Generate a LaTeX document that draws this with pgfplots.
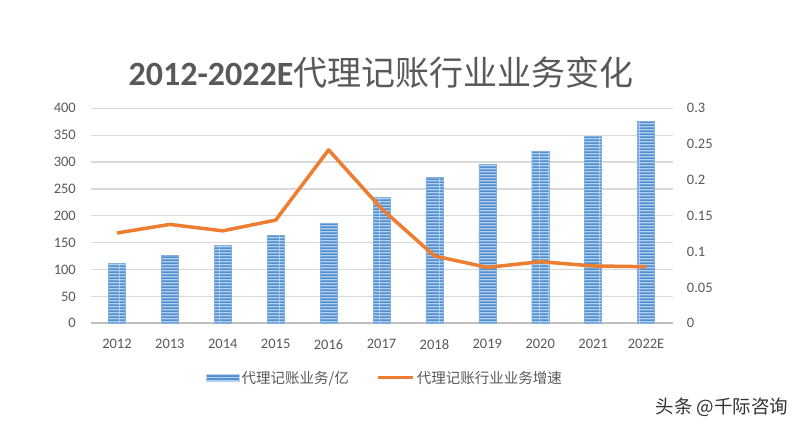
\documentclass[border=0pt]{standalone}
\usepackage{pgfplots}
\pgfplotsset{compat=1.18}
\usepackage{pgfplotstable}
\usepackage{fontspec}
\setmainfont{Carlito}
\newfontfamily\cjk{Noto Sans CJK SC}
\usetikzlibrary{patterns}
\pgfdeclarepatternformonly{hstripes}{\pgfqpoint{0pt}{0pt}}{\pgfqpoint{20pt}{3.3pt}}{\pgfqpoint{20pt}{3.3pt}}{\pgfpathrectangle{\pgfqpoint{0pt}{0pt}}{\pgfqpoint{20pt}{2pt}}\pgfusepath{fill}}
\definecolor{barblue}{HTML}{4F8FD0}
\definecolor{barlight}{HTML}{B4D0EE}
\definecolor{lineorange}{HTML}{ED7D31}
\definecolor{txtgray}{HTML}{595959}
\definecolor{gridgray}{HTML}{D9D9D9}
\definecolor{axisgray}{HTML}{BFBFBF}

\pgfplotstableread{
x val rate
0 111 0.126
1 126 0.138
2 145 0.129
3 164 0.144
4 187 0.242
5 234 0.160
6 271 0.094
7 296 0.078
8 321 0.086
9 348 0.080
10 376 0.079
}\datatable

\begin{document}
\begin{tikzpicture}
\path[use as bounding box, fill=white] (0pt,0pt) rectangle (800pt,429pt);
\pgfplotsset{
  common/.style={
    at={(90.5pt,105.7pt)}, anchor=south west,
    scale only axis, width=582pt, height=215pt,
    xmin=-0.5, xmax=10.5,
    axis line style={draw=none},
    major tick length=0pt,
    tick style={draw=none},
    ticklabel style={font=\fontsize{14.5}{16}\selectfont, text=txtgray, inner sep=0pt},
    clip=false,
  }
}
\begin{axis}[common,
  ymin=0, ymax=400,
  ytick={50,100,...,400},
  yticklabels={50,100,150,200,250,300,350,400},
  ymajorgrids,
  grid style={gridgray, line width=1.3pt},
  extra y ticks={0},
  extra y tick labels={0},
  extra y tick style={grid style={axisgray, line width=1.8pt}},
  yticklabel style={xshift=-14.5pt},
  xtick={0,...,10},
  xticklabels={2012,2013,2014,2015,2016,2017,2018,2019,2020,2021,2022E},
  xticklabel style={yshift=-16pt},
  legend style={at={(0.506,-0.254)}, anchor=center, draw=none, fill=none,
    legend columns=2, font=\cjk\fontsize{14.5}{16}\selectfont, text=txtgray},
]
\addplot[ybar, bar width=17pt, fill=barlight, draw=barblue!70, line width=0.4pt,
  postaction={pattern=hstripes, pattern color=barblue},
  legend image code/.code={\fill[barlight, postaction={pattern=hstripes, pattern color=barblue}] (0pt,-3.5pt) rectangle (33pt,3.5pt);}]
  table[x=x,y=val]{\datatable};
\addlegendentry{代理记账业务/亿\hspace*{26pt}}
\addlegendimage{legend image code/.code={\draw[lineorange, line width=3pt] (0pt,0pt) -- (35pt,0pt);}}
\addlegendentry{代理记账行业业务增速}
\end{axis}
\begin{axis}[common,
  ymin=0, ymax=0.3,
  axis y line*=right,
  hide x axis,
  ytick={0,0.05,0.1,0.15,0.2,0.25,0.3},
  yticklabels={0,0.05,0.1,0.15,0.2,0.25,0.3},
  yticklabel style={xshift=14.2pt},
]
\addplot[lineorange, line width=3.5pt, line join=round, mark=none]
  table[x=x,y=rate]{\datatable};
\end{axis}
\node[anchor=base, text=txtgray, inner sep=0pt] at (381pt,343pt)
  {\fontsize{34}{40}\selectfont\bfseries 2012-2022E{\cjk\mdseries 代理记账行业业务变化}};
\node[anchor=center, text=black!80, inner sep=0pt] at (722pt,22pt)
  {\cjk\fontsize{18.5}{20}\selectfont 头条 @千际咨询};
\end{tikzpicture}
\end{document}
